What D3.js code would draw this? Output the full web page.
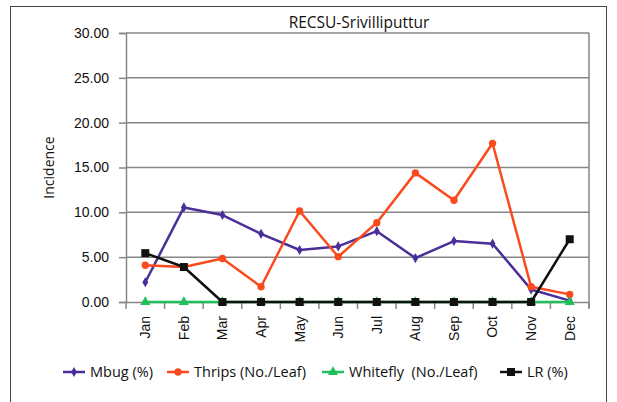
<!DOCTYPE html>
<html>
<head>
<meta charset="utf-8">
<script src="https://cdn.jsdelivr.net/npm/d3@7"></script>
<style>
  body { margin: 0; background: #fff; }
  svg { font-family: "Open Sans", "Liberation Sans", sans-serif; }
</style>
</head>
<body>
<svg id="chart" width="617" height="402"></svg>
<script>
// chart data
const months = ["Jan", "Feb", "Mar", "Apr", "May", "Jun", "Jul", "Aug", "Sep", "Oct", "Nov", "Dec"];
const mbug = [2.2, 10.55, 9.7, 7.6, 5.8, 6.2, 7.9, 4.9, 6.8, 6.5, 1.4, 0.15];
const thrips = [4.1, 3.9, 4.85, 1.7, 10.15, 5.05, 8.85, 14.4, 11.35, 17.7, 1.7, 0.85];
const whitefly = [0, 0, 0, 0, 0, 0, 0, 0, 0, 0, 0, 0];
const lr = [5.45, 3.9, 0, 0, 0, 0, 0, 0, 0, 0, 0, 7.0];
const yTicks = [0, 5, 10, 15, 20, 25, 30];

const series = [
  { name: "Mbug (%)", values: mbug, color: "#4a2f9a", marker: "diamond" },
  { name: "Thrips (No./Leaf)", values: thrips, color: "#fa4a1e", marker: "circle" },
  { name: "Whitefly  (No./Leaf)", values: whitefly, color: "#1fbf5a", marker: "triangle" },
  { name: "LR (%)", values: lr, color: "#111111", marker: "square" },
];

const svg = d3.select("#chart");
const plot = { left: 126, top: 33, right: 589, bottom: 302 };

// outer frame
svg.append("rect")
  .attr("x", 10.5).attr("y", 6.5)
  .attr("width", 596).attr("height", 400)
  .attr("fill", "none").attr("stroke", "#444").attr("stroke-width", 1);

const x = d3.scaleBand().domain(months).range([plot.left, plot.right]);
const y = d3.scaleLinear().domain([0, 30]).range([plot.bottom, plot.top]);

// gridlines
svg.append("g")
  .selectAll("line")
  .data(yTicks.filter((d) => d > 0))
  .enter()
  .append("line")
  .attr("x1", plot.left).attr("x2", plot.right)
  .attr("y1", (d) => y(d)).attr("y2", (d) => y(d))
  .attr("stroke", "#868686").attr("stroke-width", 1.5);

// right edge of plot area
svg.append("line")
  .attr("x1", plot.right).attr("x2", plot.right)
  .attr("y1", plot.top).attr("y2", plot.bottom + 6)
  .attr("stroke", "#868686").attr("stroke-width", 1.5);

// y axis
const yAxis = svg.append("g")
  .attr("transform", `translate(${plot.left},0)`)
  .call(d3.axisLeft(y).tickValues(yTicks).tickFormat(d3.format(".2f")).tickSize(7).tickPadding(10));
yAxis.select(".domain").attr("stroke", "#868686").attr("stroke-width", 1.5);
yAxis.selectAll(".tick line").attr("stroke", "#868686").attr("stroke-width", 1.5);
yAxis.selectAll("text").attr("font-size", 14).attr("fill", "#111");

// x axis
const xAxis = svg.append("g")
  .attr("transform", `translate(0,${plot.bottom})`)
  .call(d3.axisBottom(x).tickSize(0).tickPadding(0));
xAxis.select(".domain").attr("stroke", "#868686").attr("stroke-width", 1.5);
xAxis.selectAll(".tick text")
  .attr("font-size", 14).attr("fill", "#111")
  .attr("transform", "rotate(-90)")
  .attr("text-anchor", "end")
  .attr("x", -14).attr("y", 0).attr("dy", "0.35em");

// category boundary ticks
svg.append("g")
  .selectAll("line")
  .data(d3.range(months.length + 1))
  .enter()
  .append("line")
  .attr("x1", (i) => plot.left + i * x.step())
  .attr("x2", (i) => plot.left + i * x.step())
  .attr("y1", plot.bottom).attr("y2", plot.bottom + 7)
  .attr("stroke", "#868686").attr("stroke-width", 1.5);

// y title
svg.append("text")
  .attr("transform", `translate(54,${(plot.top + plot.bottom) / 2}) rotate(-90)`)
  .attr("text-anchor", "middle")
  .attr("font-size", 14).attr("fill", "#111")
  .text("Incidence");

// chart title
svg.append("text")
  .attr("x", 359).attr("y", 28)
  .attr("text-anchor", "middle")
  .attr("font-size", 15.5).attr("fill", "#111")
  .text("RECSU-Srivilliputtur");

function markerPath(type) {
  const sym = {
    diamond: d3.symbol().type(d3.symbolDiamond).size(30),
    circle: d3.symbol().type(d3.symbolCircle).size(42),
    triangle: d3.symbol().type(d3.symbolTriangle).size(44),
    square: d3.symbol().type(d3.symbolSquare).size(64),
  };
  return sym[type]();
}

const line = d3.line()
  .x((d, i) => x(months[i]) + x.bandwidth() / 2)
  .y((d) => y(d));

series.forEach((s) => {
  const g = svg.append("g");
  g.append("path")
    .attr("d", line(s.values))
    .attr("fill", "none")
    .attr("stroke", s.color)
    .attr("stroke-width", 2.5)
    .attr("stroke-linejoin", "round");
  g.selectAll("path.m")
    .data(s.values)
    .enter()
    .append("path")
    .attr("class", "m")
    .attr("d", markerPath(s.marker))
    .attr("transform", (d, i) => `translate(${x(months[i]) + x.bandwidth() / 2},${y(d)})`)
    .attr("fill", s.color);
});

// legend
const legendX = [63, 167, 322, 500];
const legend = svg.append("g").attr("transform", "translate(0,372)");
series.forEach((s, i) => {
  const item = legend.append("g").attr("transform", `translate(${legendX[i]},0)`);
  item.append("line")
    .attr("x1", 0).attr("x2", 22)
    .attr("stroke", s.color).attr("stroke-width", 2.5);
  item.append("path")
    .attr("d", markerPath(s.marker))
    .attr("transform", "translate(11,0)")
    .attr("fill", s.color);
  item.append("text")
    .attr("x", 27).attr("dy", "0.35em")
    .attr("font-size", 14.5).attr("fill", "#111")
    .style("white-space", "pre")
    .text(s.name);
});
</script>
</body>
</html>
